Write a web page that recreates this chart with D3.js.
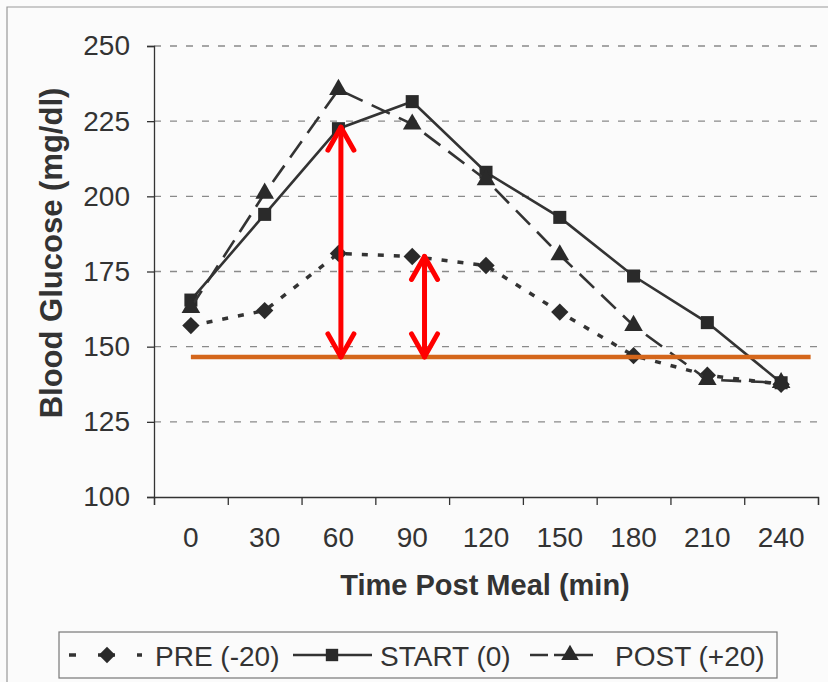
<!DOCTYPE html>
<html>
<head>
<meta charset="utf-8">
<script src="https://cdn.jsdelivr.net/npm/d3@7"></script>
<style>
  body { margin: 0; background: #fbfbfb; }
  svg { display: block; font-family: "Liberation Sans", Arial, sans-serif; }
</style>
</head>
<body>
<div id="chart"></div>
<script>
// data
var minutes = [0, 30, 60, 90, 120, 150, 180, 210, 240];
var pre   = [157, 162, 181, 180, 177, 161.5, 147, 140.5, 137.5];
var start = [165.5, 194, 222.5, 231.5, 208, 193, 173.5, 158, 138];
var post  = [163, 201, 235.5, 224, 205.5, 180.5, 157, 139, 138];
var yTicks = [100, 125, 150, 175, 200, 225, 250];
var seriesNames = ["PRE (-20)", "START (0)", "POST (+20)"];

// annotations drawn on top
var baseValue = 146.6;
var baseRange = [0, 252];
var arrowMinutes = [61, 95];
var arrowTops = [223, 180];

var width = 828, height = 682;

var svg = d3.select("#chart").append("svg")
    .attr("width", width)
    .attr("height", height);

svg.append("rect")
    .attr("width", width).attr("height", height)
    .attr("fill", "#fbfbfb");

// scan border at top / left
svg.append("path")
    .attr("d", "M7," + height + "V7H" + width)
    .attr("fill", "none")
    .attr("stroke", "#999")
    .attr("stroke-width", 1.2);

var x = d3.scaleLinear().domain([-15, 255]).range([154, 818]);
var y = d3.scaleLinear().domain([100, 250]).range([497, 46]);

var ink = "#333";

// gridlines
svg.append("g")
    .selectAll("line")
    .data(yTicks.filter(function(d) { return d > 100; }))
    .enter().append("line")
    .attr("x1", x(-15)).attr("x2", x(255))
    .attr("y1", function(d) { return y(d); })
    .attr("y2", function(d) { return y(d); })
    .attr("stroke", "#8a8a8a")
    .attr("stroke-width", 1.4)
    .attr("stroke-dasharray", "7,9");

// y axis
var yAxis = d3.axisLeft(y).tickValues(yTicks).tickSize(7).tickPadding(17);
var gy = svg.append("g")
    .attr("transform", "translate(" + x(-15) + ",0)")
    .call(yAxis);
gy.select(".domain").attr("stroke", ink).attr("stroke-width", 1.3);
gy.selectAll(".tick line").attr("stroke", ink).attr("stroke-width", 1.3);
gy.selectAll(".tick text").attr("font-size", 28).attr("fill", ink);

// x axis: ticks between categories, labels at categories
var xAxis = d3.axisBottom(x)
    .tickValues(d3.range(-15, 256, 30))
    .tickSize(8)
    .tickFormat("");
var gx = svg.append("g")
    .attr("transform", "translate(0," + y(100) + ")")
    .call(xAxis);
gx.select(".domain").attr("stroke", ink).attr("stroke-width", 1.3);
gx.selectAll(".tick line").attr("stroke", ink).attr("stroke-width", 1.3);

svg.append("g")
    .selectAll("text")
    .data(minutes)
    .enter().append("text")
    .attr("x", function(d) { return x(d); })
    .attr("y", 547)
    .attr("text-anchor", "middle")
    .attr("font-size", 28)
    .attr("fill", ink)
    .text(function(d) { return d; });

// axis titles
svg.append("text")
    .attr("x", 485)
    .attr("y", 595)
    .attr("text-anchor", "middle")
    .attr("font-size", 29)
    .attr("font-weight", "bold")
    .attr("fill", ink)
    .text("Time Post Meal (min)");

svg.append("text")
    .attr("transform", "translate(62,253) rotate(-90)")
    .attr("text-anchor", "middle")
    .attr("font-size", 31)
    .attr("font-weight", "bold")
    .attr("fill", ink)
    .text("Blood Glucose (mg/dl)");

// series
var line = d3.line()
    .x(function(d, i) { return x(minutes[i]); })
    .y(function(d) { return y(d); });

var series = [
    {values: pre,   dash: "6,10",  width: 3.5, symbol: "diamond"},
    {values: start, dash: null,    width: 2.6, symbol: "square"},
    {values: post,  dash: "20,10", width: 2.6, symbol: "triangle"}
];

function symbolPath(kind, scale) {
    scale = scale || 1;
    if (kind == "square") return d3.symbol().type(d3.symbolSquare).size(170 * scale)();
    if (kind == "triangle") return d3.symbol().type(d3.symbolTriangle).size(150 * scale)();
    return d3.symbol().type(d3.symbolSquare).size(150 * scale)();
}

series.forEach(function(s) {
    svg.append("path")
        .datum(s.values)
        .attr("d", line)
        .attr("fill", "none")
        .attr("stroke", ink)
        .attr("stroke-width", s.width)
        .attr("stroke-dasharray", s.dash);

    svg.append("g")
        .selectAll("path")
        .data(s.values)
        .enter().append("path")
        .attr("d", symbolPath(s.symbol))
        .attr("transform", function(d, i) {
            return "translate(" + x(minutes[i]) + "," + y(d) + ")" + (s.symbol == "diamond" ? " rotate(45)" : "");
        })
        .attr("fill", "#2a2a2a");
});

// orange reference line
svg.append("line")
    .attr("x1", x(baseRange[0])).attr("x2", x(baseRange[1]))
    .attr("y1", y(baseValue)).attr("y2", y(baseValue))
    .attr("stroke", "#d4661b")
    .attr("stroke-width", 4.5);

// red double arrows
var red = "#ff0000";
arrowMinutes.forEach(function(m, i) {
    var ax = x(m), top = y(arrowTops[i]), bot = y(baseValue);
    var g = svg.append("g")
        .attr("fill", "none")
        .attr("stroke", red)
        .attr("stroke-width", 5)
        .attr("stroke-linecap", "round")
        .attr("stroke-linejoin", "round");
    g.append("line").attr("x1", ax).attr("x2", ax).attr("y1", top).attr("y2", bot);
    g.append("path").attr("d", "M" + (ax - 13) + "," + (top + 23) + "L" + ax + "," + top + "L" + (ax + 13) + "," + (top + 23));
    g.append("path").attr("d", "M" + (ax - 13) + "," + (bot - 23) + "L" + ax + "," + bot + "L" + (ax + 13) + "," + (bot - 23));
});

// legend
var legend = svg.append("g");
legend.append("rect")
    .attr("x", 59).attr("y", 632)
    .attr("width", 718).attr("height", 46)
    .attr("fill", "none")
    .attr("stroke", "#777")
    .attr("stroke-width", 1.2);

var legendItems = [
    {x1: 69, x2: 142, dash: "7,22,17,22,7", width: 3.5, sx: 107, symbol: "diamond", tx: 155},
    {x1: 293, x2: 372, dash: null, width: 2.6, sx: 332, symbol: "square", tx: 380},
    {x1: 530, x2: 593, dash: "18,6,60", width: 2.6, sx: 570, symbol: "triangle", tx: 615}
];

legendItems.forEach(function(d, i) {
    legend.append("line")
        .attr("x1", d.x1).attr("x2", d.x2)
        .attr("y1", 655).attr("y2", 655)
        .attr("stroke", ink)
        .attr("stroke-width", d.width)
        .attr("stroke-dasharray", d.dash);
    legend.append("path")
        .attr("d", symbolPath(d.symbol, 0.9))
        .attr("transform", "translate(" + d.sx + ",655)" + (d.symbol == "diamond" ? " rotate(45)" : ""))
        .attr("fill", "#2a2a2a");
    legend.append("text")
        .attr("x", d.tx).attr("y", 666)
        .attr("font-size", 28)
        .attr("fill", ink)
        .text(seriesNames[i]);
});
</script>
</body>
</html>
